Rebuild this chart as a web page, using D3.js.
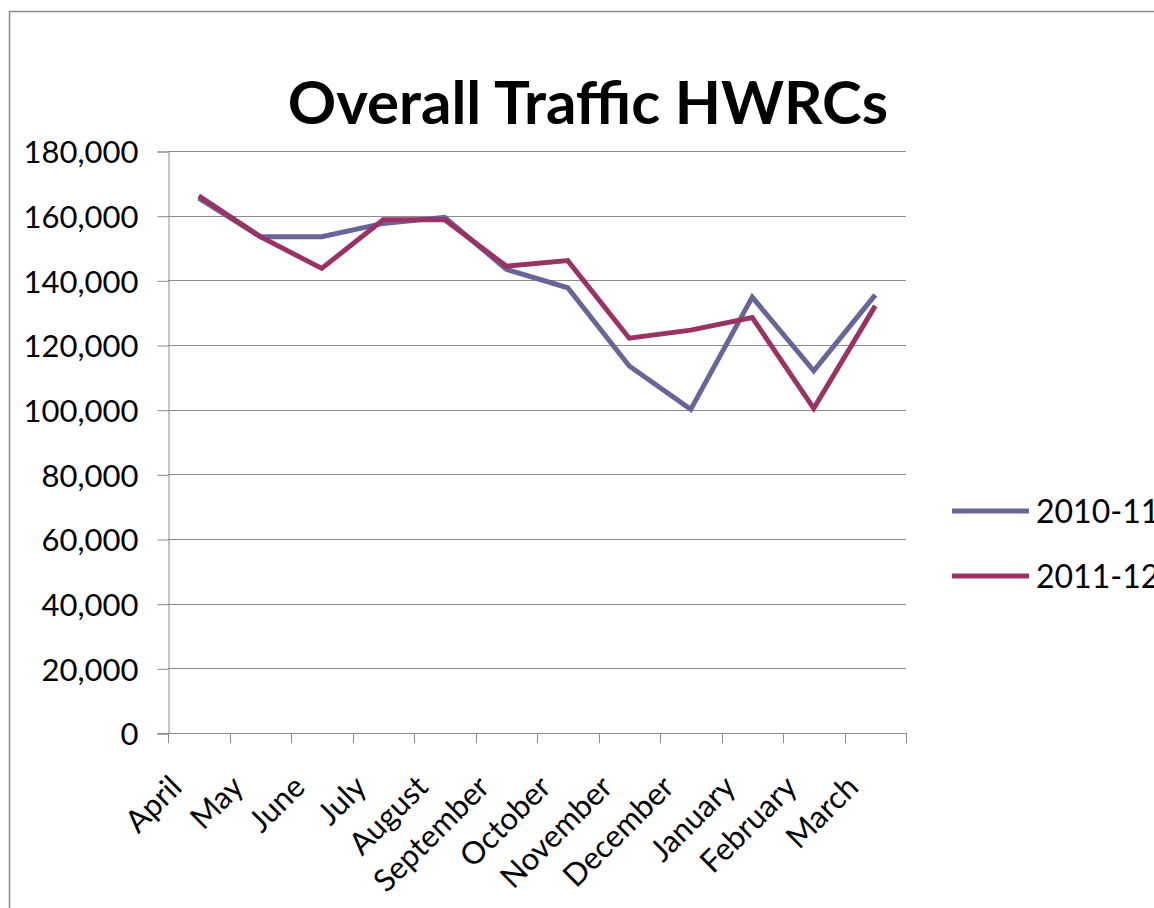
<!DOCTYPE html>
<html lang="en">
<head>
  <meta charset="UTF-8">
  <title>Overall Traffic HWRCs</title>
  <script src="https://d3js.org/d3.v7.min.js"></script>
  <style>
    body { margin: 0; background: #fff; }
    text { font-family: Lato, "Open Sans", sans-serif; fill: #000; }
  </style>
</head>
<body>
<div id="chart"></div>
<script>
// data
const months = ["April", "May", "June", "July", "August", "September", "October",
  "November", "December", "January", "February", "March"];
const seriesNames = ["2010-11", "2011-12"];
const traffic1011 = [165400, 153500, 153500, 157600, 159500, 143400, 137700,
  113500, 100100, 134800, 112000, 135500];
const traffic1112 = [166100, 153500, 143700, 158700, 158700, 144400, 146100,
  122100, 124600, 128500, 100400, 132100];
const yTicks = [0, 20000, 40000, 60000, 80000, 100000, 120000, 140000, 160000, 180000];
const colors = ["#666699", "#993366"];

const W = 1154, H = 908;
const svg = d3.select("#chart").append("svg")
  .attr("width", W).attr("height", H);

// outer chart border (cut off on the right and bottom)
svg.append("rect")
  .attr("x", 9.5).attr("y", 11.5)
  .attr("width", 1300).attr("height", 1000)
  .attr("fill", "none").attr("stroke", "#8a8a8a").attr("stroke-width", 1.5);

// plot area
const plot = { left: 168, right: 906, top: 151, bottom: 733 };

const x = d3.scaleBand().domain(months).range([plot.left, plot.right]);
const y = d3.scaleLinear().domain([0, 180000]).range([plot.bottom, plot.top]);

// gridlines
svg.append("g").selectAll("line")
  .data(yTicks.filter(d => d > 0))
  .join("line")
  .attr("x1", plot.left).attr("x2", plot.right)
  .attr("y1", d => Math.round(y(d)) + 0.5).attr("y2", d => Math.round(y(d)) + 0.5)
  .attr("stroke", "#8c8c8c").attr("stroke-width", 1);

// y axis
const yAxis = svg.append("g")
  .attr("transform", `translate(${plot.left + 0.5},0.5)`)
  .call(d3.axisLeft(y).tickValues(yTicks).tickSize(11).tickPadding(19)
    .tickFormat(d3.format(",")));
yAxis.selectAll("line, path").attr("stroke", "#8c8c8c");
yAxis.selectAll("text")
  .style("font-size", "31px")
  .attr("dy", "0.36em");

// x axis: ticks on category boundaries
const xBounds = months.map(m => x(m)).concat([plot.right]);
const xAxis = svg.append("g");
xAxis.append("line")
  .attr("x1", plot.left - 11).attr("x2", plot.right)
  .attr("y1", plot.bottom + 0.5).attr("y2", plot.bottom + 0.5)
  .attr("stroke", "#8c8c8c");
xAxis.selectAll(".xt")
  .data(xBounds)
  .join("line")
  .attr("class", "xt")
  .attr("x1", d => Math.round(d) + 0.5).attr("x2", d => Math.round(d) + 0.5)
  .attr("y1", plot.bottom).attr("y2", plot.bottom + 10)
  .attr("stroke", "#8c8c8c");
xAxis.selectAll(".xl")
  .data(months)
  .join("text")
  .attr("class", "xl")
  .attr("text-anchor", "end")
  .attr("transform", d => `translate(${x(d) + x.bandwidth() / 2 - 15},${plot.bottom + 56}) rotate(-45)`)
  .style("font-size", "31px")
  .text(d => d);

// lines
const line = d3.line()
  .x((d, i) => x(months[i]) + x.bandwidth() / 2)
  .y(d => y(d));

[traffic1011, traffic1112].forEach((s, i) => {
  svg.append("path")
    .datum(s)
    .attr("d", line)
    .attr("fill", "none")
    .attr("stroke", colors[i])
    .attr("stroke-width", 5)
    .attr("stroke-linejoin", "miter");
});

// title
svg.append("text")
  .attr("x", 588).attr("y", 124)
  .attr("text-anchor", "middle")
  .style("font-size", "60px")
  .style("font-weight", "bold")
  .text("Overall Traffic HWRCs");

// legend
const legend = svg.append("g");
seriesNames.forEach((name, i) => {
  const ly = 511 + i * 65;
  legend.append("line")
    .attr("x1", 952).attr("x2", 1029)
    .attr("y1", ly).attr("y2", ly)
    .attr("stroke", colors[i]).attr("stroke-width", 5);
  legend.append("text")
    .attr("x", 1036).attr("y", ly)
    .attr("dy", "0.36em")
    .style("font-size", "32px")
    .text(name);
});
</script>
</body>
</html>
